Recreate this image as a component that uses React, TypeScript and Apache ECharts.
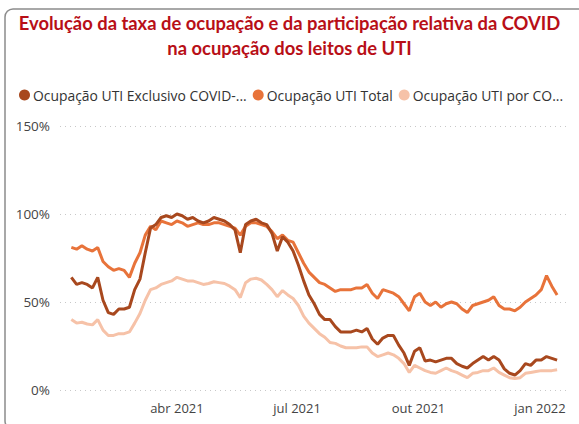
import React, { useEffect, useRef } from "react";
import * as echarts from "echarts";

const titleText = "Evolução da taxa de ocupação e da participação relativa da COVID\nna ocupação dos leitos de UTI";

const seriesNames = ["Ocupação UTI Exclusivo COVID-19", "Ocupação UTI Total", "Ocupação UTI por COVID-19"];
const legendLabels = ["Ocupação UTI Exclusivo COVID-...", "Ocupação UTI Total", "Ocupação UTI por CO..."];
const seriesColors = ["#A8481E", "#E8733A", "#F6C2A8"];

const dates = [
  "2021-01-11", "2021-01-15", "2021-01-19", "2021-01-23", "2021-01-27", "2021-01-31",
  "2021-02-04", "2021-02-08", "2021-02-12", "2021-02-16", "2021-02-20", "2021-02-24", "2021-02-28",
  "2021-03-04", "2021-03-08", "2021-03-12", "2021-03-16", "2021-03-20", "2021-03-24", "2021-03-28",
  "2021-04-01", "2021-04-05", "2021-04-09", "2021-04-13", "2021-04-17", "2021-04-21", "2021-04-25", "2021-04-29",
  "2021-05-03", "2021-05-07", "2021-05-11", "2021-05-15", "2021-05-19", "2021-05-23", "2021-05-27", "2021-05-31",
  "2021-06-04", "2021-06-08", "2021-06-12", "2021-06-16", "2021-06-20", "2021-06-24", "2021-06-28",
  "2021-07-02", "2021-07-06", "2021-07-10", "2021-07-14", "2021-07-18", "2021-07-22", "2021-07-26", "2021-07-30",
  "2021-08-03", "2021-08-07", "2021-08-11", "2021-08-15", "2021-08-19", "2021-08-23", "2021-08-27", "2021-08-31",
  "2021-09-04", "2021-09-08", "2021-09-12", "2021-09-16", "2021-09-20", "2021-09-24", "2021-09-28",
  "2021-10-02", "2021-10-06", "2021-10-10", "2021-10-14", "2021-10-18", "2021-10-22", "2021-10-26", "2021-10-30",
  "2021-11-03", "2021-11-07", "2021-11-11", "2021-11-15", "2021-11-19", "2021-11-23", "2021-11-27",
  "2021-12-01", "2021-12-05", "2021-12-09", "2021-12-13", "2021-12-17", "2021-12-21", "2021-12-25", "2021-12-29",
  "2022-01-02", "2022-01-06", "2022-01-10", "2022-01-14",
];

const exclusivoCovid = [
  64, 60, 61, 60, 58, 64,
  51, 44, 43, 46, 46, 47, 57,
  63, 78, 92, 94, 98, 99, 98, 100,
  99, 97, 98, 96, 95, 96, 98,
  97, 96, 94, 91, 78, 94, 96, 97,
  95, 94, 89, 79, 87, 84, 79,
  71, 62, 54, 49, 43, 40, 40, 36,
  33, 33, 33, 34, 33, 35, 29, 26,
  29.5, 31, 31, 25.5, 21, 14, 22,
  24, 16.5, 17, 16, 17, 18, 18, 15,
  13.5, 12.5, 15, 17, 19, 17, 19,
  17, 12, 9.5, 8.5, 11, 15, 14, 17,
  17, 19, 18, 17,
];

const ocupacaoTotal = [
  81, 80, 82, 80, 79, 81,
  73, 70, 68, 69, 68, 64, 72,
  78, 88, 93, 91, 96, 95, 94, 96,
  95, 93, 94, 95, 94, 94, 95,
  95, 94, 93, 92, 88, 93, 95, 95,
  94, 93, 90, 86, 88, 85, 84,
  78, 72, 67, 64, 61, 60, 58, 56,
  57, 57, 57, 58, 58, 60, 55, 52,
  57, 56, 55, 53, 49, 45, 53,
  55, 50, 48, 50, 47, 49, 50, 49,
  46, 44, 48, 49, 50, 51, 53,
  48, 46, 46, 45, 47, 50, 52, 54,
  57, 65, 59, 54,
];

const porCovid = [
  40, 38, 38.5, 37.5, 37, 40,
  34, 31, 31, 32, 32, 33, 38,
  43.5, 51, 57, 58, 60, 61, 62, 64,
  63, 62, 62, 61, 60, 60.5, 61.5,
  61, 60.5, 59, 57, 52.5, 61, 63, 63.5,
  62.5, 60, 57, 53, 56.5, 54, 52,
  48, 42, 38, 35, 32, 30, 27, 26.5,
  25, 24, 24, 24, 24.5, 24.5, 21, 19,
  20, 21, 20, 18, 15, 10, 14,
  12.5, 11, 10, 9.5, 11, 12.5, 11, 10,
  8.5, 7, 9.5, 10, 11, 11, 12.5,
  10, 8.5, 7, 6.5, 7, 9.5, 10, 10.5,
  11, 11, 11, 11.5,
];

const yTicks = [0, 50, 100, 150];
const xTickDates = ["2021-04-01", "2021-07-01", "2021-10-01", "2022-01-01"];
const monthNames = ["jan", "fev", "mar", "abr", "mai", "jun", "jul", "ago", "set", "out", "nov", "dez"];

function toTs(s: string, hour = 0) {
  const [y, m, d] = s.split("-").map(Number);
  return new Date(y, m - 1, d, hour).getTime();
}

export default function App() {
  const ref = useRef<HTMLDivElement>(null);
  useEffect(() => {
    if (!ref.current) return;
    const chart = echarts.init(ref.current, null, { renderer: "svg" });
    const allValues = [exclusivoCovid, ocupacaoTotal, porCovid];
    chart.setOption({
      animation: false,
      backgroundColor: "#ffffff",
      title: {
        text: titleText,
        left: "center",
        top: 5,
        textStyle: {
          fontFamily: "Lato, 'Open Sans', sans-serif",
          fontWeight: "bold",
          fontSize: 18.4,
          color: "#B80F17",
          lineHeight: 25,
        },
      },
      graphic: [
        {
          type: "rect",
          shape: { x: 5, y: 9, width: 640, height: 420, r: 8 },
          style: { fill: "none", stroke: "#8c8c8c", lineWidth: 1.5 },
          silent: true,
          z: 100,
        },
      ],
      legend: {
        left: 14,
        top: 83,
        icon: "circle",
        itemWidth: 11,
        itemHeight: 11,
        itemGap: 6,
        data: seriesNames,
        formatter: (name: string) => legendLabels[seriesNames.indexOf(name)],
        textStyle: { fontFamily: "'Open Sans', sans-serif", fontSize: 13.9, color: "#333", padding: [0, 0, 0, -2] },
      },
      grid: { left: 60, right: 12, top: 126, bottom: 34, containLabel: false },
      xAxis: {
        type: "value",
        min: toTs("2021-01-02", 10),
        max: toTs("2022-01-21", 12),
        axisLine: { show: false },
        axisTick: { show: false },
        splitLine: { show: false },
        axisLabel: {
          customValues: xTickDates.map((d) => toTs(d)),
          formatter: (v: number) => {
            const dt = new Date(v);
            return monthNames[dt.getMonth()] + " " + dt.getFullYear();
          },
          fontFamily: "'Open Sans', sans-serif",
          fontSize: 13,
          color: "#444",
          margin: 11,
        },
      },
      yAxis: {
        type: "value",
        min: yTicks[0],
        max: yTicks[yTicks.length - 1],
        interval: 50,
        axisLine: { show: false },
        axisTick: { show: false },
        axisLabel: {
          formatter: "{value}%",
          fontFamily: "'Open Sans', sans-serif",
          fontSize: 13.5,
          color: "#444",
          margin: 10,
        },
        splitLine: { lineStyle: { type: [1, 4], color: "#c8c8c8", width: 1 } },
      },
      series: seriesNames.map((name, i) => ({
        name,
        type: "line",
        showSymbol: false,
        color: seriesColors[i],
        lineStyle: { width: 3, color: seriesColors[i] },
        data: dates.map((d, j) => [toTs(d), allValues[i][j]]),
        z: 3 - i,
      })),
    });
    return () => chart.dispose();
  }, []);
  return (
    <div
      ref={ref}
      style={{ position: "fixed", left: 0, top: 0, width: 579, height: 424, background: "#fff" }}
    />
  );
}
